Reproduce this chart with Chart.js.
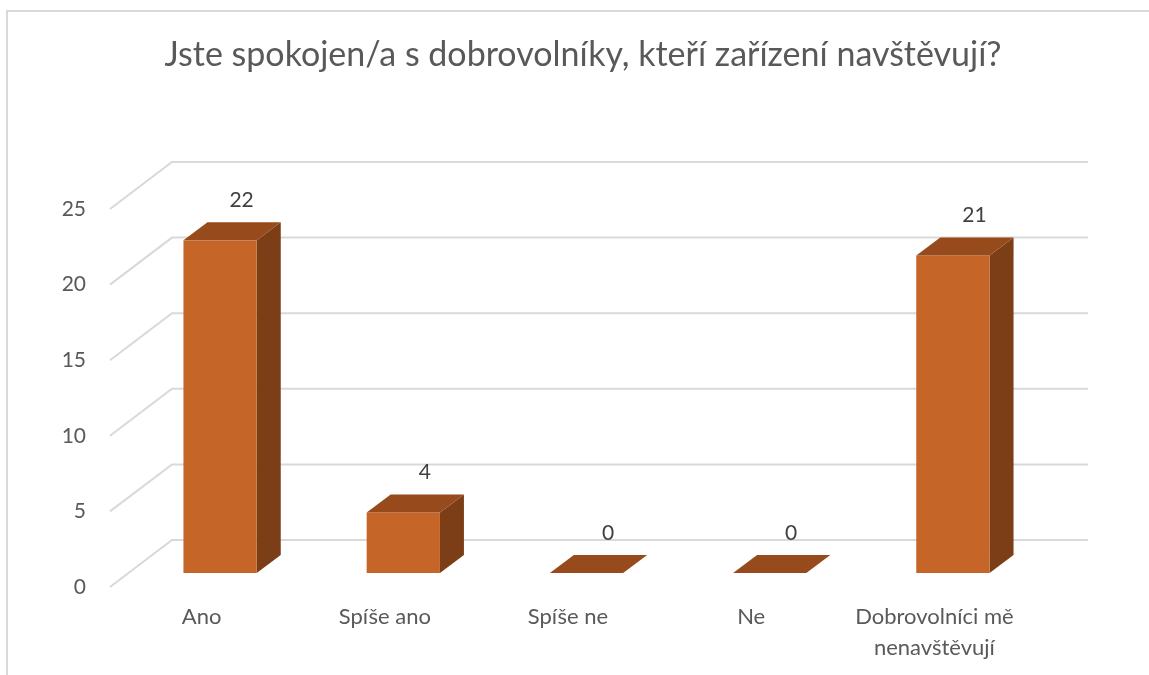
<!DOCTYPE html>
<html>
<head>
<meta charset="utf-8">
<script src="https://cdn.jsdelivr.net/npm/chart.js@4"></script>
<style>
  html, body { margin: 0; padding: 0; background: #fff; }
  #wrap { width: 1149px; height: 675px; position: relative; }
</style>
</head>
<body>
<div id="wrap"><canvas id="chart"></canvas></div>
<script>
const title = 'Jste spokojen/a s dobrovolníky, kteří zařízení navštěvují?';
const categories = ['Ano', 'Spíše ano', 'Spíše ne', 'Ne', ['Dobrovolníci mě', 'nenavštěvují']];
const values = [22, 4, 0, 0, 21];
const yTicks = [0, 5, 10, 15, 20, 25];

// 3D look: depth of the floor and of the bars, in pixels
const floorDepth = { dx: 62, dy: -47 };
const barShift = { dx: 18.5, dy: -14 };
const barDepth = { dx: 24, dy: -18 };

const frontColor = '#c56628';
const topColor = '#974b1c';
const sideColor = '#7b3e17';
const gridColor = '#d9d9d9';
const font = 'Lato, "Open Sans", sans-serif';

const threeD = {
  id: 'threeD',
  beforeDraw(chart) {
    const ctx = chart.ctx;
    ctx.save();
    ctx.fillStyle = '#fff';
    ctx.fillRect(0, 0, chart.width, chart.height);
    // frame
    ctx.strokeStyle = '#d9d9d9';
    ctx.lineWidth = 2;
    ctx.beginPath();
    ctx.moveTo(7, 675);
    ctx.lineTo(7, 11);
    ctx.lineTo(1149, 11);
    ctx.stroke();
    // title
    ctx.fillStyle = '#595959';
    ctx.font = '34px ' + font;
    ctx.textAlign = 'center';
    ctx.textBaseline = 'middle';
    ctx.fillText(title, 583, 55);
    ctx.restore();
  },
  beforeDatasetsDraw(chart) {
    const ctx = chart.ctx;
    const ys = chart.scales.y;
    const area = chart.chartArea;
    ctx.save();
    ctx.strokeStyle = gridColor;
    ctx.lineWidth = 2;
    yTicks.forEach(v => {
      const py = ys.getPixelForValue(v);
      ctx.beginPath();
      ctx.moveTo(area.left, py);
      ctx.lineTo(area.left + floorDepth.dx, py + floorDepth.dy);
      ctx.lineTo(area.right + floorDepth.dx, py + floorDepth.dy);
      ctx.stroke();
    });
    ctx.restore();
  },
  afterDatasetsDraw(chart) {
    const ctx = chart.ctx;
    const meta = chart.getDatasetMeta(0);
    ctx.save();
    meta.data.forEach((bar, i) => {
      const p = bar.getProps(['x', 'y', 'base', 'width'], true);
      const l = p.x - p.width / 2 + barShift.dx;
      const r = p.x + p.width / 2 + barShift.dx;
      const t = p.y + barShift.dy;
      const b = p.base + barShift.dy;
      // side
      if (b - t > 0.5) {
        ctx.fillStyle = sideColor;
        ctx.beginPath();
        ctx.moveTo(r, t);
        ctx.lineTo(r + barDepth.dx, t + barDepth.dy);
        ctx.lineTo(r + barDepth.dx, b + barDepth.dy);
        ctx.lineTo(r, b);
        ctx.closePath();
        ctx.fill();
        ctx.fillStyle = frontColor;
        ctx.fillRect(l, t, r - l, b - t);
      }
      // top
      ctx.fillStyle = topColor;
      ctx.beginPath();
      ctx.moveTo(l, t);
      ctx.lineTo(l + barDepth.dx, t + barDepth.dy);
      ctx.lineTo(r + barDepth.dx, t + barDepth.dy);
      ctx.lineTo(r, t);
      ctx.closePath();
      ctx.fill();
      // value label
      ctx.fillStyle = '#404040';
      ctx.font = '21px ' + font;
      ctx.textAlign = 'center';
      ctx.textBaseline = 'middle';
      ctx.fillText(String(values[i]), p.x + 40, p.y - 54);
    });
    ctx.restore();
  }
};

new Chart(document.getElementById('chart'), {
  type: 'bar',
  data: {
    labels: categories,
    datasets: [{
      data: values,
      backgroundColor: 'rgba(0,0,0,0)',
      borderWidth: 0,
      categoryPercentage: 1,
      barPercentage: 0.4
    }]
  },
  options: {
    responsive: true,
    maintainAspectRatio: false,
    animation: false,
    layout: { padding: { top: 209, right: 123, bottom: 8, left: 0 } },
    plugins: {
      legend: { display: false },
      title: { display: false },
      tooltip: { enabled: false }
    },
    scales: {
      x: {
        grid: { display: false, drawTicks: false },
        border: { display: false },
        ticks: {
          color: '#595959',
          font: { family: font, size: 22, lineHeight: 1.4 },
          padding: 15,
          maxRotation: 0,
          autoSkip: false
        },
        afterFit(scale) { scale.height = 80; }
      },
      y: {
        min: 0,
        max: 25,
        grid: { display: false, drawTicks: false },
        border: { display: false },
        ticks: {
          stepSize: 5,
          color: '#595959',
          font: { family: font, size: 21 },
          padding: 24
        },
        afterFit(scale) { scale.width = 110; }
      }
    }
  },
  plugins: [threeD]
});
</script>
</body>
</html>
